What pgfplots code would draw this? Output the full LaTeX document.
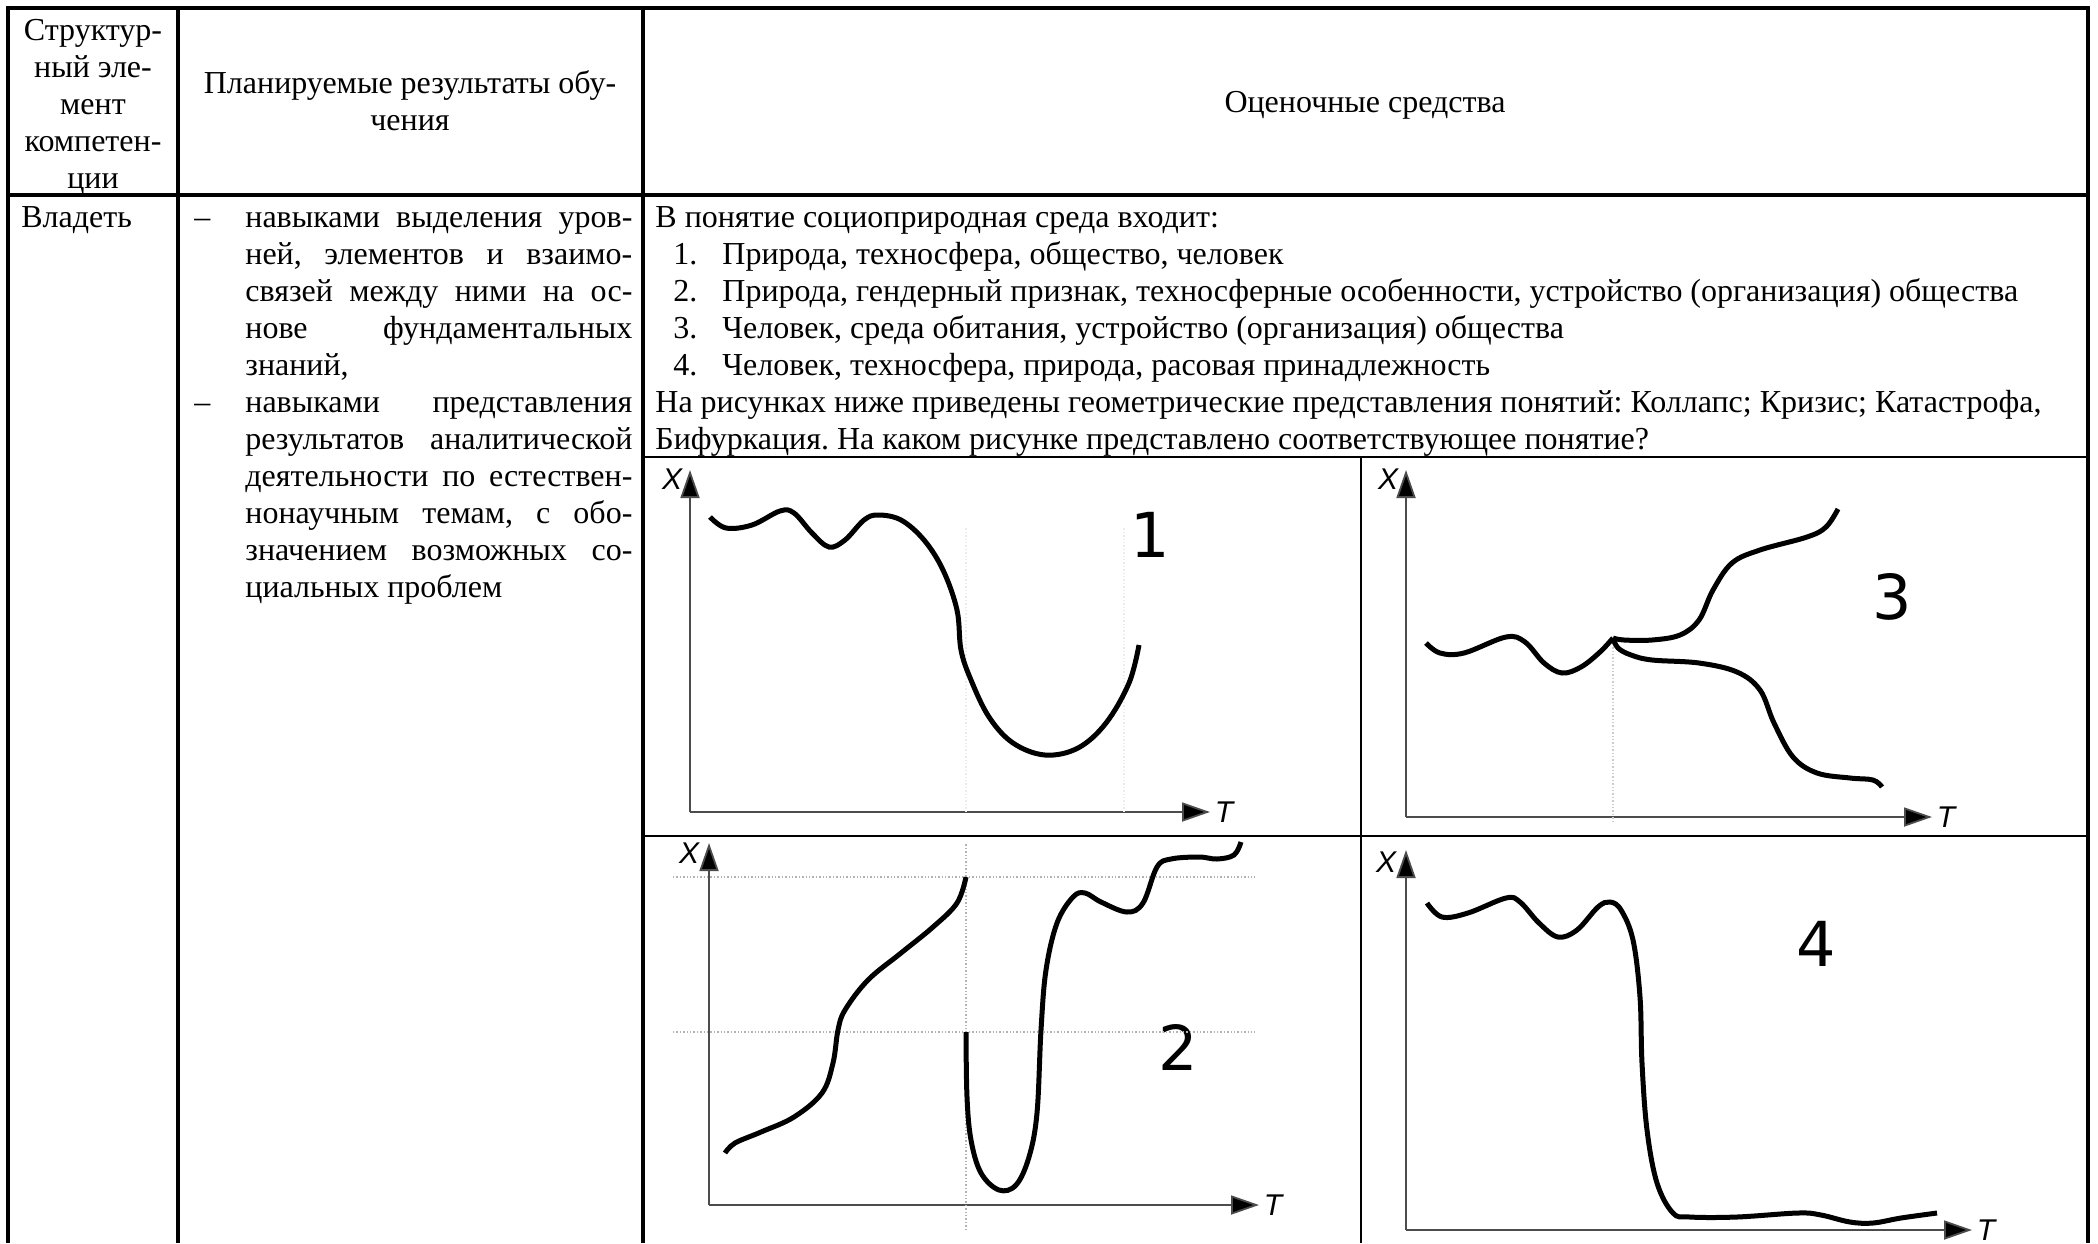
\documentclass[border=0pt]{standalone}
\usepackage{fontspec}
\setmainfont{Liberation Serif}
\newfontfamily\numfont{DejaVu Sans}
\newfontfamily\lblfont{Liberation Sans}
\usepackage{pgfplots}
\pgfplotsset{compat=1.18}
\usetikzlibrary{arrows.meta}
\frenchspacing

% sketch panels: data are in image pixels measured from each axis origin
\pgfplotsset{
  sketch/.style={
    scale only axis, axis lines=left, xmin=0, ymin=0,
    xtick=\empty, ytick=\empty, clip=false,
    axis line style={draw=black!70, line width=0.9pt},
    every outer x axis line/.append style={-{Triangle[length=14pt,width=9.5pt,fill=black]}},
    every outer y axis line/.append style={-{Triangle[length=14pt,width=9.5pt,fill=black]}},
  },
  curve/.style={black, line width=2.5pt, smooth, tension=0.6, mark=none},
  guide/.style={black!30, densely dotted, line width=0.7pt, mark=none, sharp plot},
}
\newcommand{\axlab}{\lblfont\itshape\fontsize{15}{15}\selectfont}
\newcommand{\panelnum}{\numfont\fontsize{31}{31}\selectfont}
\newcommand{\txt}{\fontsize{16}{18.5}\selectfont}

\begin{document}
\begin{tikzpicture}
\begin{scope}[x=0.5pt, y=-0.5pt]
% table rules
\draw[line width=1.6pt] (8,1243) -- (8,8) -- (2088,8) -- (2088,1243);
\draw[line width=1.6pt] (178,8) -- (178,1243);
\draw[line width=1.6pt] (643,8) -- (643,1243);
\draw[line width=1.6pt] (8,195) -- (2088,195);
\draw[line width=1.1pt] (643,457) -- (2088,457);
\draw[line width=1.1pt] (1361,457) -- (1361,1243);
\draw[line width=1.1pt] (643,836) -- (2088,836);

% header
\begin{scope}[every node/.style={anchor=base, inner sep=0pt, font=\txt}]
\node at (93,40) {Структур-};
\node at (93,77) {ный эле-};
\node at (93,114) {мент};
\node at (93,151) {компетен-};
\node at (93,188) {ции};
\node at (410,93.5) {Планируемые результаты обу-};
\node at (410,130.5) {чения};
\node at (1365,112) {Оценочные средства};
\end{scope}

% body, left columns
\begin{scope}[every node/.style={anchor=base west, inner sep=0pt, font=\txt}]
\node at (21,227) {Владеть};
\node at (194,227) {–};
\node at (194,412) {–};
\node at (245,227) {\makebox[193.5pt][s]{навыками выделения уров-}};
\node at (245,264) {\makebox[193.5pt][s]{ней, элементов и взаимо-}};
\node at (245,301) {\makebox[193.5pt][s]{связей между ними на ос-}};
\node at (245,338) {\makebox[193.5pt][s]{нове фундаментальных}};
\node at (245,375) {знаний,};
\node at (245,412) {\makebox[193.5pt][s]{навыками представления}};
\node at (245,449) {\makebox[193.5pt][s]{результатов аналитической}};
\node at (245,486) {\makebox[193.5pt][s]{деятельности по естествен-}};
\node at (245,523) {\makebox[193.5pt][s]{нонаучным темам, с обо-}};
\node at (245,560) {\makebox[193.5pt][s]{значением возможных со-}};
\node at (245,597) {циальных проблем};

% body, right column
\node at (655,227) {В понятие социоприродная среда входит:};
\node at (673,264) {1.};
\node at (722,264) {Природа, техносфера, общество, человек};
\node at (673,301) {2.};
\node at (722,301) {Природа, гендерный признак, техносферные особенности, устройство (организация) общества};
\node at (673,338) {3.};
\node at (722,338) {Человек, среда обитания, устройство (организация) общества};
\node at (673,375) {4.};
\node at (722,375) {Человек, техносфера, природа, расовая принадлежность};
\node at (655,412) {На рисунках ниже приведены геометрические представления понятий: Коллапс; Кризис; Катастрофа,};
\node at (655,449) {Бифуркация. На каком рисунке представлено соответствующее понятие?};
\end{scope}

% panel numbers
\node[font=\panelnum] at (1150,535) {1};
\node[font=\panelnum] at (1892,597) {3};
\node[font=\panelnum] at (1178,1047) {2};
\node[font=\panelnum] at (1816,944) {4};
\end{scope}

% panel 1
\begin{axis}[sketch, at={(345pt,-406pt)}, anchor=south west,
  width=260pt, height=171pt, xmax=520, ymax=342]
\addplot[black!8, densely dotted, line width=0.7pt, sharp plot] coordinates {(276,0) (276,285)};
\addplot[black!8, densely dotted, line width=0.7pt, sharp plot] coordinates {(434,0) (434,285)};
\addplot[curve] coordinates {
 (20,295) (36,284) (62,287) (90,301) (104,299) (122,279) (139,265) (155,272)
 (174,292) (188,297) (211,292) (234,272) (253,242) (267,202) (271,162) (281,132)
 (299,95) (323,69) (355,57) (388,64) (416,89) (439,129) (449,167)};
\node[font=\axlab] at (axis cs:-18,333) {X};
\node[font=\axlab] at (axis cs:534,0) {T};
\end{axis}

% panel 3
\begin{axis}[sketch, at={(703pt,-408.5pt)}, anchor=south west,
  width=263pt, height=173.5pt, xmax=526, ymax=347]
\addplot[black!20, densely dotted, line width=0.7pt, sharp plot] coordinates {(207,-5) (207,179)};
\addplot[curve] coordinates {
 (20,174) (34,164) (58,164) (100,180) (119,175) (138,154) (156,144) (175,150)
 (194,165) (207,179)};
\addplot[curve] coordinates {
 (207,179) (218,177) (246,177) (274,182) (293,197) (307,227) (326,254) (354,267)
 (401,280) (420,290) (432,308)};
\addplot[curve] coordinates {
 (207,179) (212,169) (225,162) (246,157) (293,154) (331,145) (354,127) (368,94)
 (387,60) (411,44) (444,39) (467,37) (476,30)};
\node[font=\axlab] at (axis cs:-18,338) {X};
\node[font=\axlab] at (axis cs:540,0) {T};
\end{axis}

% panel 2
\begin{axis}[sketch, at={(354.5pt,-602.5pt)}, anchor=south west,
  width=275pt, height=181pt, xmax=550, ymax=362]
\addplot[guide] coordinates {(-36,328) (546,328)};
\addplot[guide] coordinates {(-36,173) (546,173)};
\addplot[guide] coordinates {(257,-25) (257,362)};
\addplot[curve] coordinates {
 (16,52) (26,62) (52,73) (85,88) (113,112) (124,142) (129,175) (136,195)
 (159,225) (192,252) (224,278) (248,302) (257,328)};
\addplot[curve] coordinates {
 (257,173) (258,108) (262,65) (272,32) (290,15) (307,20) (320,48) (328,92)
 (332,175) (337,235) (348,282) (364,308) (376,312) (392,303) (418,293) (434,302)
 (448,338) (462,346) (490,348) (508,346) (525,350) (532,363)};
\node[font=\axlab] at (axis cs:-20,352) {X};
\node[font=\axlab] at (axis cs:564,0) {T};
\end{axis}

% panel 4
\begin{axis}[sketch, at={(703pt,-615pt)}, anchor=south west,
  width=283pt, height=190pt, xmax=566, ymax=380]
\addplot[curve] coordinates {
 (21,327) (36,313) (62,317) (100,332) (114,328) (133,307) (152,293) (171,300)
 (192,323) (204,328) (215,320) (227,290) (234,233) (236,167) (241,100) (251,47)
 (267,17) (284,13) (331,13) (392,17) (415,15) (444,8) (467,7) (495,12) (531,17)};
\node[font=\axlab] at (axis cs:-20,368) {X};
\node[font=\axlab] at (axis cs:580,0) {T};
\end{axis}

\pgfresetboundingbox
\path[use as bounding box] (0,0) rectangle (1049pt,-621.5pt);
\end{tikzpicture}
\end{document}
